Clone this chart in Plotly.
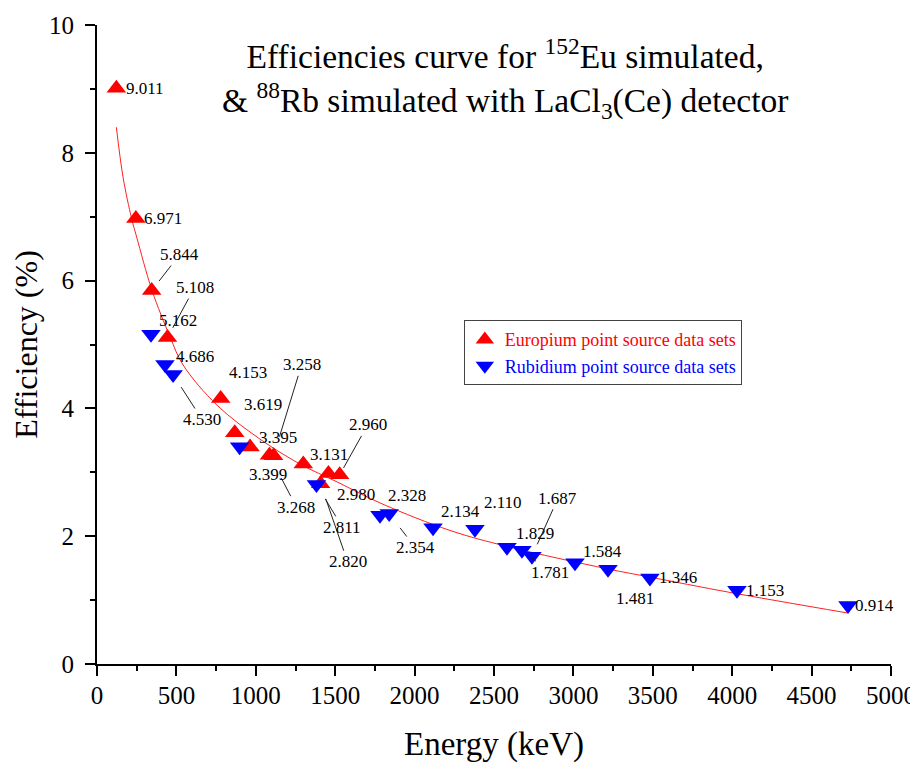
import plotly.graph_objects as go

# ---------------- data ----------------
eu_energy = [121.78, 244.7, 344.28, 443.96, 778.9, 867.4, 964.1, 1085.8, 1112.1, 1299.1, 1408.0, 1457.6, 1528.1]
eu_eff = [9.011, 6.971, 5.844, 5.108, 4.153, 3.619, 3.395, 3.268, 3.258, 3.131, 2.820, 2.980, 2.960]

rb_energy = [340, 428, 479, 898, 1382, 1782, 1840, 2116, 2380, 2582, 2676, 2739, 3010, 3218, 3482, 4030, 4729]
rb_eff = [5.162, 4.686, 4.530, 3.399, 2.811, 2.328, 2.354, 2.134, 2.110, 1.829, 1.781, 1.687, 1.584, 1.481, 1.346, 1.153, 0.914]

# fitted curve
fit_energy = [122, 164, 218, 250, 346, 460, 542, 756, 1026, 1278, 1511, 1801, 2223, 2582, 3212, 3482, 3986, 4723]
fit_eff = [8.40, 7.62, 6.97, 6.68, 5.85, 5.12, 4.68, 4.05, 3.52, 3.13, 2.85, 2.50, 2.09, 1.84, 1.49, 1.36, 1.12, 0.80]

x_ticks = [0, 500, 1000, 1500, 2000, 2500, 3000, 3500, 4000, 4500, 5000]
y_ticks = [0, 2, 4, 6, 8, 10]

# label placement (pixel offsets, leader standoff or None)
eu_label_pos = [(29, 0, None), (27, 0, None), (28, -36, 12), (27, -50, 11), (27, -26, None),
                (28, -28, None), (28, -10, None), (27, 52, 26), (28, -91, 20), (26, -9, None),
                (27, 78, 16), (28, 21, None), (28, -50, 8)]
rb_label_pos = [(27, -14, None), (30, -8, None), (29, 45, 15), (28, 28, None), (26, 43, 17),
                (27, -20, None), (26, 34, 18), (27, -16, None), (28, -27, None), (28, -14, None),
                (28, 22, 11), (26, -58, 13), (28, -11, None), (27, 29, None), (28, 0, None),
                (28, 0, None), (27, 0, None)]

SERIF = "Liberation Serif"

fig = go.Figure()
fig.add_trace(go.Scatter(x=fit_energy, y=fit_eff, mode="lines",
                         line=dict(color="#ff2020", width=1, shape="spline", smoothing=1.0),
                         showlegend=False, hoverinfo="skip"))
fig.add_trace(go.Scatter(x=eu_energy, y=eu_eff, mode="markers",
                         marker=dict(symbol="triangle-up", size=17, color="#ff0000"),
                         name='<span style="color:#ff0000">Europium point source data sets</span>'))
fig.add_trace(go.Scatter(x=rb_energy, y=rb_eff, mode="markers",
                         marker=dict(symbol="triangle-down", size=17, color="#0000ff"),
                         name='<span style="color:#0000ff">Rubidium point source data sets</span>'))

annotations = []
for xs, ys, pos in [(eu_energy, eu_eff, eu_label_pos), (rb_energy, rb_eff, rb_label_pos)]:
    for xv, yv, (dx, dy, so) in zip(xs, ys, pos):
        ann = dict(
            x=xv, y=yv, xref="x", yref="y", text=f"{yv:.3f}",
            ax=dx, ay=dy, axref="pixel", ayref="pixel",
            font=dict(family=SERIF, size=17, color="black"))
        if so is not None:
            ann.update(showarrow=True, arrowhead=0, arrowwidth=1, arrowcolor="#222222", standoff=so)
        else:
            ann.update(showarrow=False, xshift=dx, yshift=-dy)
        annotations.append(ann)

annotations.append(dict(
    x=0.514, y=0.9155, xref="paper", yref="paper", xanchor="center", yanchor="middle",
    showarrow=False,
    text="Efficiencies curve for <sup>152</sup>Eu simulated,<br>&amp; <sup>88</sup>Rb simulated with LaCl<sub>3</sub>(Ce) detector",
    font=dict(family=SERIF, size=33.5, color="black")))

axis_common = dict(showline=True, linewidth=2, linecolor="black", ticks="outside",
                   ticklen=10, tickwidth=2, tickcolor="black", showgrid=False, zeroline=False,
                   mirror=False, automargin=False,
                   tickfont=dict(family=SERIF, size=25, color="black"))

# the page body adds an 8 px offset, so the figure is sized 8 px smaller
fig.update_layout(
    width=910, height=756,
    margin=dict(l=89, r=27, t=17, b=100),
    plot_bgcolor="white", paper_bgcolor="white",
    annotations=annotations,
    legend=dict(x=0.462, y=0.538, xanchor="left", yanchor="top",
                bordercolor="#444444", borderwidth=1, bgcolor="white",
                font=dict(family=SERIF, size=18), tracegroupgap=0),
    xaxis=dict(range=[0, 5000], tickvals=x_ticks, ticktext=[str(v) for v in x_ticks],
               minor=dict(dtick=250, ticklen=5, tickwidth=2, tickcolor="black", ticks="outside"),
               title=dict(text="Energy (keV)", font=dict(family=SERIF, size=33, color="black"), standoff=24),
               ticklabelstandoff=-2,
               **axis_common),
    yaxis=dict(range=[0, 10], tickvals=y_ticks, ticktext=[str(v) for v in y_ticks],
               minor=dict(dtick=1, ticklen=5, tickwidth=2, tickcolor="black", ticks="outside"),
               title=dict(text="Efficiency (%)", font=dict(family=SERIF, size=32, color="black"), standoff=8),
               ticklabelstandoff=6,
               **axis_common),
)

fig.write_html("out.html")
